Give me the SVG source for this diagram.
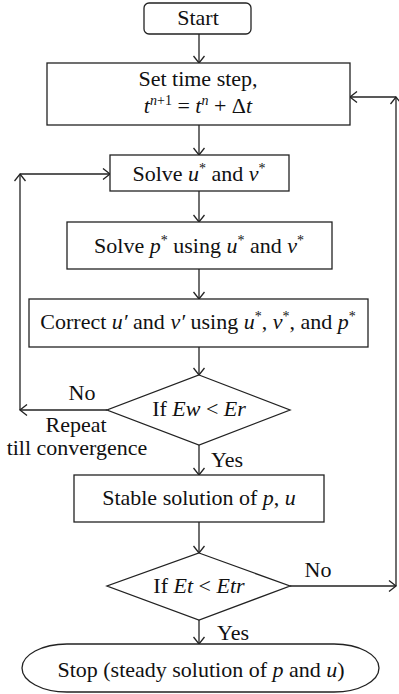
<svg xmlns="http://www.w3.org/2000/svg" width="399" height="694" viewBox="0 0 399 694">
<style>
.box{fill:#fff;stroke:#222;stroke-width:1.3}
.ln{fill:none;stroke:#222;stroke-width:1.3}
text{font-family:"Liberation Serif","Times New Roman",serif;font-size:22px;fill:#111}
.c{text-anchor:middle}
.i{font-style:italic}
.s{font-size:14px}
</style>
<defs>
<marker id="ah" markerWidth="10" markerHeight="12" refX="8" refY="6" orient="auto" markerUnits="userSpaceOnUse">
<path d="M1,0.5 L8,6 L1,11.5" fill="none" stroke="#222" stroke-width="1.3"/>
</marker>
</defs>
<g id="connectors" class="ln">
<line x1="199" y1="34" x2="199" y2="63" marker-end="url(#ah)"/>
<line x1="199" y1="125" x2="199" y2="155" marker-end="url(#ah)"/>
<line x1="199" y1="191" x2="199" y2="222" marker-end="url(#ah)"/>
<line x1="199" y1="269" x2="199" y2="299" marker-end="url(#ah)"/>
<line x1="199" y1="347" x2="199" y2="375" marker-end="url(#ah)"/>
<line x1="199" y1="445" x2="199" y2="475" marker-end="url(#ah)"/>
<line x1="199" y1="522" x2="199" y2="553" marker-end="url(#ah)"/>
<line x1="199" y1="620" x2="199" y2="644" marker-end="url(#ah)"/>
<line x1="107" y1="410" x2="20" y2="410" marker-end="url(#ah)"/>
<line x1="20" y1="410" x2="20" y2="174" marker-end="url(#ah)"/>
<line x1="20" y1="174" x2="110" y2="174" marker-end="url(#ah)"/>
<line x1="290" y1="586" x2="396" y2="586" marker-end="url(#ah)"/>
<line x1="396" y1="586" x2="396" y2="97" marker-end="url(#ah)"/>
<line x1="396" y1="97" x2="350" y2="97" marker-end="url(#ah)"/>
</g>
<g id="start">
<rect class="box" x="144" y="3" width="107" height="31" rx="5"/>
<text class="c" x="198" y="25">Start</text>
</g>
<g id="settime">
<rect class="box" x="47" y="63" width="303" height="62"/>
<text class="c" x="198" y="86">Set time step,</text>
<text class="c" x="198" y="113"><tspan class="i">t</tspan><tspan class="s i" dy="-8">n</tspan><tspan class="s">+1</tspan><tspan dy="8"> = </tspan><tspan class="i">t</tspan><tspan class="s i" dy="-8">n</tspan><tspan dy="8"> + Δ</tspan><tspan class="i">t</tspan></text>
</g>
<g id="solveuv">
<rect class="box" x="110" y="155" width="179" height="36"/>
<text class="c" x="199" y="181">Solve <tspan class="i">u</tspan><tspan class="s" dy="-8">*</tspan><tspan dy="8"> and </tspan><tspan class="i">v</tspan><tspan class="s" dy="-8">*</tspan></text>
</g>
<g id="solvep">
<rect class="box" x="67" y="222" width="265" height="47"/>
<text class="c" x="199" y="253">Solve <tspan class="i">p</tspan><tspan class="s" dy="-8">*</tspan><tspan dy="8">  using </tspan><tspan class="i">u</tspan><tspan class="s" dy="-8">*</tspan><tspan dy="8"> and </tspan><tspan class="i">v</tspan><tspan class="s" dy="-8">*</tspan></text>
</g>
<g id="correct">
<rect class="box" x="29" y="299" width="339" height="48"/>
<text class="c" x="198" y="329">Correct <tspan class="i">u′</tspan> and <tspan class="i">v′</tspan> using <tspan class="i">u</tspan><tspan class="s" dy="-8">*</tspan><tspan dy="8">, </tspan><tspan class="i">v</tspan><tspan class="s" dy="-8">*</tspan><tspan dy="8">, and </tspan><tspan class="i">p</tspan><tspan class="s" dy="-8">*</tspan></text>
</g>
<g id="decision1">
<polygon class="box" points="199,375 290,410 199,445 107,410"/>
<text class="c" x="199" y="416">If <tspan class="i">Ew</tspan> &lt; <tspan class="i">Er</tspan></text>
<text class="c" x="82" y="400">No</text>
<text class="c" x="76" y="432">Repeat</text>
<text class="c" x="77" y="455">till convergence</text>
<text x="211" y="467">Yes</text>
</g>
<g id="stable">
<rect class="box" x="74" y="475" width="250" height="47"/>
<text class="c" x="199" y="505">Stable solution of <tspan class="i">p</tspan>, <tspan class="i">u</tspan></text>
</g>
<g id="decision2">
<polygon class="box" points="199,553 290,586 199,620 107,586"/>
<text class="c" x="199" y="593">If <tspan class="i">Et</tspan> &lt; <tspan class="i">Etr</tspan></text>
<text class="c" x="318" y="577">No</text>
<text x="217" y="640">Yes</text>
</g>
<g id="stop">
<rect class="box" x="22" y="644" width="357" height="48" rx="45" ry="24"/>
<text class="c" x="201" y="677">Stop (steady solution of <tspan class="i">p</tspan> and <tspan class="i">u</tspan>)</text>
</g>
</svg>
